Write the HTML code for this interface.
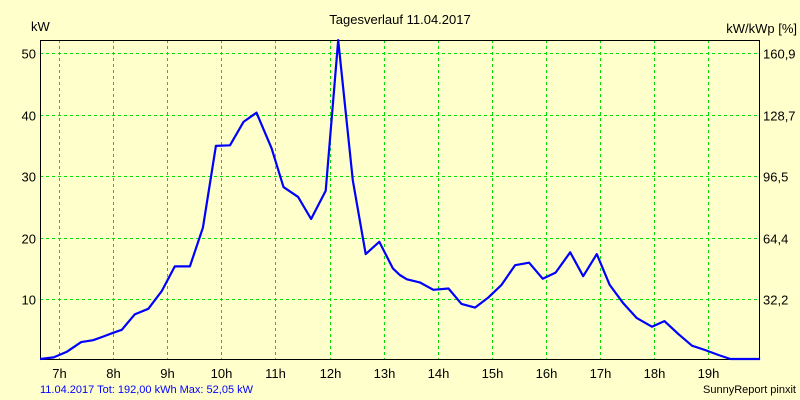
<!DOCTYPE html>
<html><head><meta charset="utf-8"><style>
body{margin:0;background:#ffffcc;}
svg{display:block;font-family:"Liberation Sans",sans-serif;}
</style></head><body>
<svg id="chart" width="800" height="400" viewBox="0 0 800 400">
<rect x="0" y="0" width="800" height="400" fill="#ffffcc"/>
<text x="400" y="24" text-anchor="middle" font-size="13">Tagesverlauf 11.04.2017</text>
<text x="31" y="31" font-size="13">kW</text>
<text x="797" y="33" text-anchor="end" font-size="13">kW/kWp [%]</text>
<g id="grid"></g>
<g id="axes"></g>
<g id="series"></g>
<text x="40" y="393" font-size="11" fill="#0000ff">11.04.2017 Tot: 192,00 kWh Max: 52,05 kW</text>
<text x="796" y="393" text-anchor="end" font-size="11">SunnyReport pinxit</text>
</svg>
<script>
const times=[6.65,6.9,7.14,7.41,7.63,7.82,8.0,8.16,8.4,8.65,8.9,9.14,9.42,9.66,9.9,10.16,10.41,10.65,10.93,11.15,11.42,11.66,11.93,12.16,12.43,12.67,12.92,13.17,13.3,13.43,13.67,13.92,14.2,14.44,14.69,14.93,15.18,15.43,15.69,15.94,16.18,16.45,16.69,16.94,17.18,17.43,17.68,17.96,18.19,18.45,18.7,18.94,19.19,19.41,19.96];
const values=[0.1,0.5,1.4,3.0,3.3,3.9,4.5,5.0,7.5,8.4,11.3,15.3,15.3,21.6,34.9,35.0,38.8,40.3,34.5,28.2,26.6,23.0,27.6,52.1,29.3,17.3,19.3,15.0,13.9,13.2,12.7,11.5,11.7,9.2,8.6,10.2,12.3,15.5,15.9,13.3,14.3,17.6,13.7,17.3,12.3,9.3,6.9,5.5,6.4,4.3,2.4,1.7,0.9,0.2,0];
const hourTicks=[7,8,9,10,11,12,13,14,15,16,17,18,19];
const leftTicks=[10,20,30,40,50];
const rightTickLabels=["32,2","64,4","96,5","128,7","160,9"];
const NS="http://www.w3.org/2000/svg";
const L=40,R=759,T=40,B=359;
const xS=h=>59+(h-7)*54.1;
const yS=v=>360.5-v*6.15;
function mk(tag,attrs,parent){const e=document.createElementNS(NS,tag);for(const k in attrs)e.setAttribute(k,attrs[k]);parent.appendChild(e);return e;}
const grid=document.getElementById('grid'),axes=document.getElementById('axes'),series=document.getElementById('series');
hourTicks.forEach(h=>{
  const x=Math.round(xS(h))+0.5;
  const l=mk('line',{x1:x,x2:x,y1:T,y2:B,stroke:'#00e000','stroke-dasharray':'3,3'},grid);
  
  
  const t=mk('text',{x:x,y:378,'text-anchor':'middle','font-size':13},axes);
  t.textContent=h+'h';
  
  
});
leftTicks.forEach((v,i)=>{
  const y=Math.round(yS(v))+0.5;
  const l=mk('line',{x1:L,x2:R,y1:y,y2:y,stroke:'#00e000','stroke-dasharray':'3,3'},grid);
  
  
  const t=mk('text',{x:36,y:y+5,'text-anchor':'end','font-size':13},axes);
  t.textContent=v;
  
  
  const r=mk('text',{x:763,y:y+5,'font-size':13},axes);
  r.textContent=rightTickLabels[i];
  
  
});
const frame=mk('rect',{x:L+0.5,y:T+0.5,width:R-L,height:B-T,fill:'none',stroke:'#000'},axes);


const pts=times.map((t,i)=>xS(t).toFixed(1)+','+Math.min(B,yS(values[i])).toFixed(1)).join(' ');
const pl=mk('polyline',{points:pts,fill:'none',stroke:'#0000ff','stroke-width':2.2,'stroke-linejoin':'round'},series);


</script>
</body></html>
